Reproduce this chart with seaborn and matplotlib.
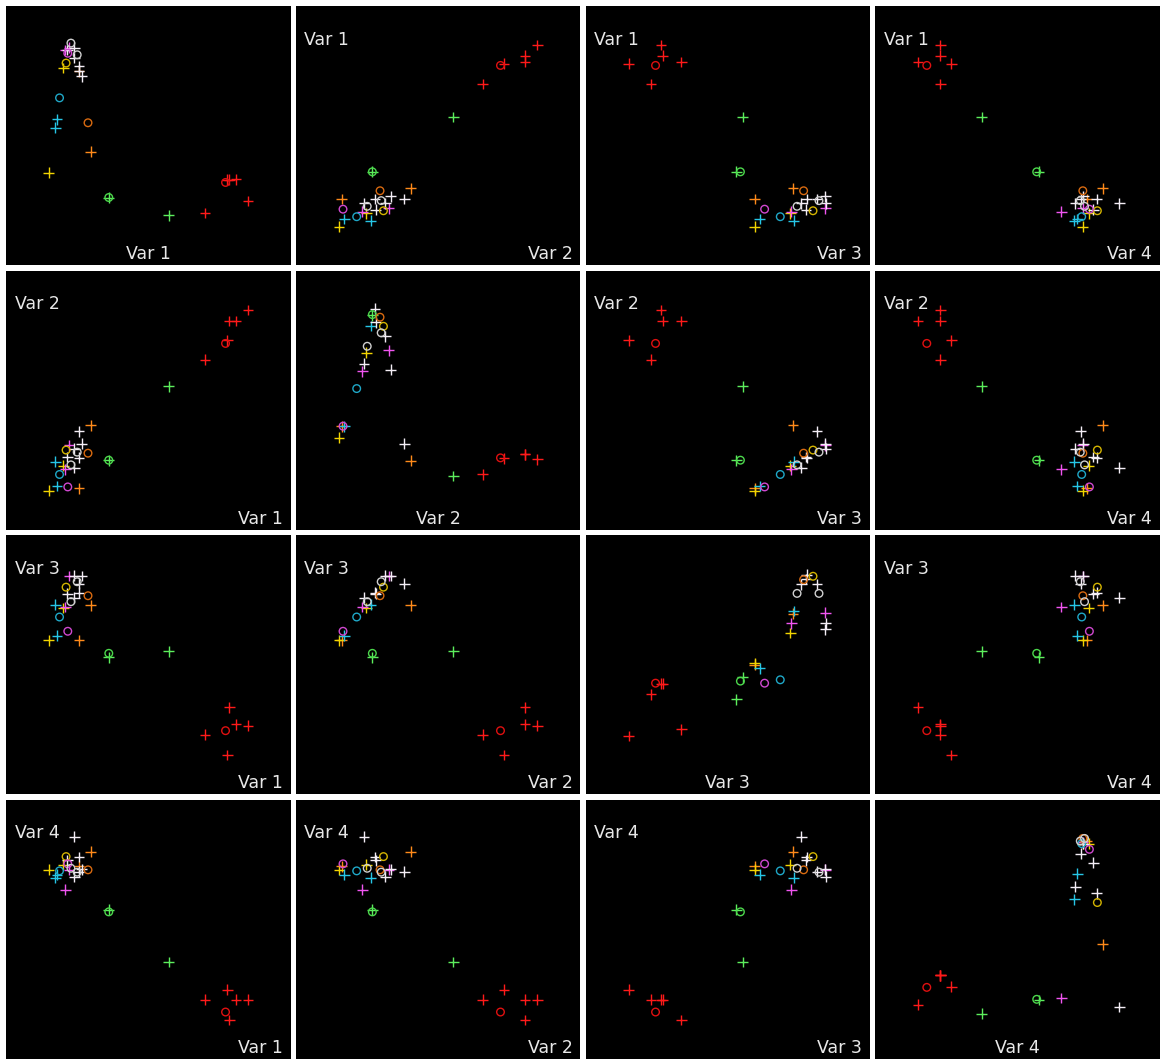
import matplotlib
matplotlib.use("Agg")
import matplotlib.pyplot as plt
import seaborn as sns
import pandas as pd

# Scatter-plot matrix of 4 variables, clustered points (+) and cluster centres (o)

group = (["red"] * 6 + ["green"] * 3 + ["orange"] * 3 + ["yellow"] * 3 +
         ["cyan"] * 3 + ["magenta"] * 3 + ["white"] * 8)
kind = (["point"] * 5 + ["centre"] +
        ["point"] * 2 + ["centre"] +
        ["point"] * 2 + ["centre"] +
        ["point"] * 2 + ["centre"] +
        ["point"] * 2 + ["centre"] +
        ["point"] * 2 + ["centre"] +
        ["point"] * 6 + ["centre"] * 2)

var1 = [0.850, 0.808, 0.784, 0.777, 0.699, 0.771,
        0.572, 0.361, 0.361,
        0.298, 0.256, 0.288,
        0.150, 0.201, 0.211,
        0.179, 0.173, 0.188,
        0.208, 0.221, 0.217,
        0.240, 0.240, 0.256, 0.256, 0.266, 0.215, 0.228, 0.250]
var2 = [0.848, 0.805, 0.805, 0.731, 0.657, 0.719,
        0.553, 0.269, 0.269,
        0.404, 0.161, 0.296,
        0.152, 0.248, 0.308,
        0.170, 0.263, 0.214,
        0.234, 0.327, 0.166,
        0.240, 0.314, 0.278, 0.381, 0.333, 0.281, 0.251, 0.300]
var3 = [0.265, 0.271, 0.336, 0.152, 0.230, 0.246,
        0.552, 0.529, 0.544,
        0.729, 0.594, 0.766,
        0.594, 0.719, 0.799,
        0.612, 0.731, 0.684,
        0.723, 0.842, 0.629,
        0.758, 0.843, 0.777, 0.813, 0.842, 0.774, 0.743, 0.820]
var4 = [0.228, 0.228, 0.150, 0.267, 0.228, 0.181,
        0.374, 0.575, 0.567,
        0.799, 0.743, 0.729,
        0.729, 0.749, 0.780,
        0.710, 0.699, 0.725,
        0.653, 0.729, 0.752,
        0.857, 0.702, 0.778, 0.722, 0.731, 0.766, 0.735, 0.720]

# y values shown in the diagonal panels
diag1 = [0.249, 0.332, 0.330, 0.330, 0.202, 0.320,
         0.194, 0.262, 0.262,
         0.439, 0.748, 0.550,
         0.358, 0.761, 0.780,
         0.563, 0.531, 0.646,
         0.830, 0.840, 0.818,
         0.840, 0.800, 0.767, 0.750, 0.729, 0.830, 0.857, 0.812]
diag2 = [0.273, 0.292, 0.292, 0.276, 0.215, 0.278,
         0.208, 0.827, 0.830,
         0.267, 0.400, 0.820,
         0.356, 0.683, 0.785,
         0.400, 0.786, 0.545,
         0.612, 0.692, 0.400,
         0.641, 0.747, 0.853, 0.333, 0.618, 0.800, 0.708, 0.760]
diag3 = [0.427, 0.427, 0.251, 0.225, 0.386, 0.429,
         0.452, 0.367, 0.437,
         0.697, 0.500, 0.828,
         0.506, 0.622, 0.841,
         0.487, 0.707, 0.442,
         0.659, 0.700, 0.429,
         0.810, 0.660, 0.847, 0.810, 0.637, 0.830, 0.775, 0.775]
diag4 = [0.322, 0.322, 0.210, 0.278, 0.322, 0.276,
         0.174, 0.227, 0.230,
         0.442, 0.840, 0.850,
         0.830, 0.830, 0.603,
         0.714, 0.616, 0.830,
         0.235, 0.835, 0.808,
         0.200, 0.664, 0.638, 0.791, 0.830, 0.756, 0.850, 0.840]

var_names = ["Var 1", "Var 2", "Var 3", "Var 4"]

point_colors = {"red": "#ff1a1a", "green": "#5cee5c", "orange": "#ff8a1a",
                "yellow": "#f2d400", "cyan": "#26c6e6", "magenta": "#f055f0",
                "white": "#f4eef6"}
centre_colors = {"red": "#e01010", "green": "#4cd84c", "orange": "#d86a10",
                 "yellow": "#d4b400", "cyan": "#1fa8c8", "magenta": "#d048d0",
                 "white": "#d0d0d0"}

df = pd.DataFrame({"group": group, "kind": kind,
                   "Var 1": var1, "Var 2": var2, "Var 3": var3, "Var 4": var4,
                   "diag 1": diag1, "diag 2": diag2, "diag 3": diag3, "diag 4": diag4})
pts = df[df["kind"] == "point"]
cen = df[df["kind"] == "centre"]

sns.set_style("white")

fig, axes = plt.subplots(4, 4, figsize=(11.6, 10.59), dpi=100)
fig.patch.set_facecolor("white")
fig.subplots_adjust(left=6 / 1160, right=1.0, top=1 - 6 / 1059, bottom=0.0,
                    wspace=0.0176, hspace=0.0193)

label_kw = dict(color="#e8e8e8", fontsize=12.5)

for i in range(4):
    for j in range(4):
        ax = axes[i, j]
        xcol = var_names[j]
        ycol = var_names[i] if i != j else "diag %d" % (i + 1)

        sns.scatterplot(data=pts, x=xcol, y=ycol, hue="group", palette=point_colors,
                        marker="+", s=60, linewidth=1.0, legend=False, ax=ax)
        sns.scatterplot(data=cen, x=xcol, y=ycol, hue="group", palette=centre_colors,
                        marker="o", s=30, legend=False, ax=ax)
        coll = ax.collections[-1]
        fc = coll.get_facecolors()
        coll.set_edgecolors(fc)
        coll.set_facecolors("none")
        coll.set_linewidth(1.0)

        ax.set_xlim(0, 1)
        ax.set_ylim(0, 1)
        ax.set_facecolor("black")
        ax.set_xticks([])
        ax.set_yticks([])
        ax.set_xlabel("")
        ax.set_ylabel("")
        for sp in ax.spines.values():
            sp.set_visible(False)

        if i == j:
            ax.text(0.5, 0.025, var_names[j], transform=ax.transAxes,
                    ha="center", va="baseline", **label_kw)
        else:
            ax.text(0.972, 0.025, var_names[j], transform=ax.transAxes,
                    ha="right", va="baseline", **label_kw)
            ax.text(0.03, 0.905, var_names[i], transform=ax.transAxes,
                    ha="left", va="top", **label_kw)

fig.savefig("out.png", dpi=100, facecolor=fig.get_facecolor())
